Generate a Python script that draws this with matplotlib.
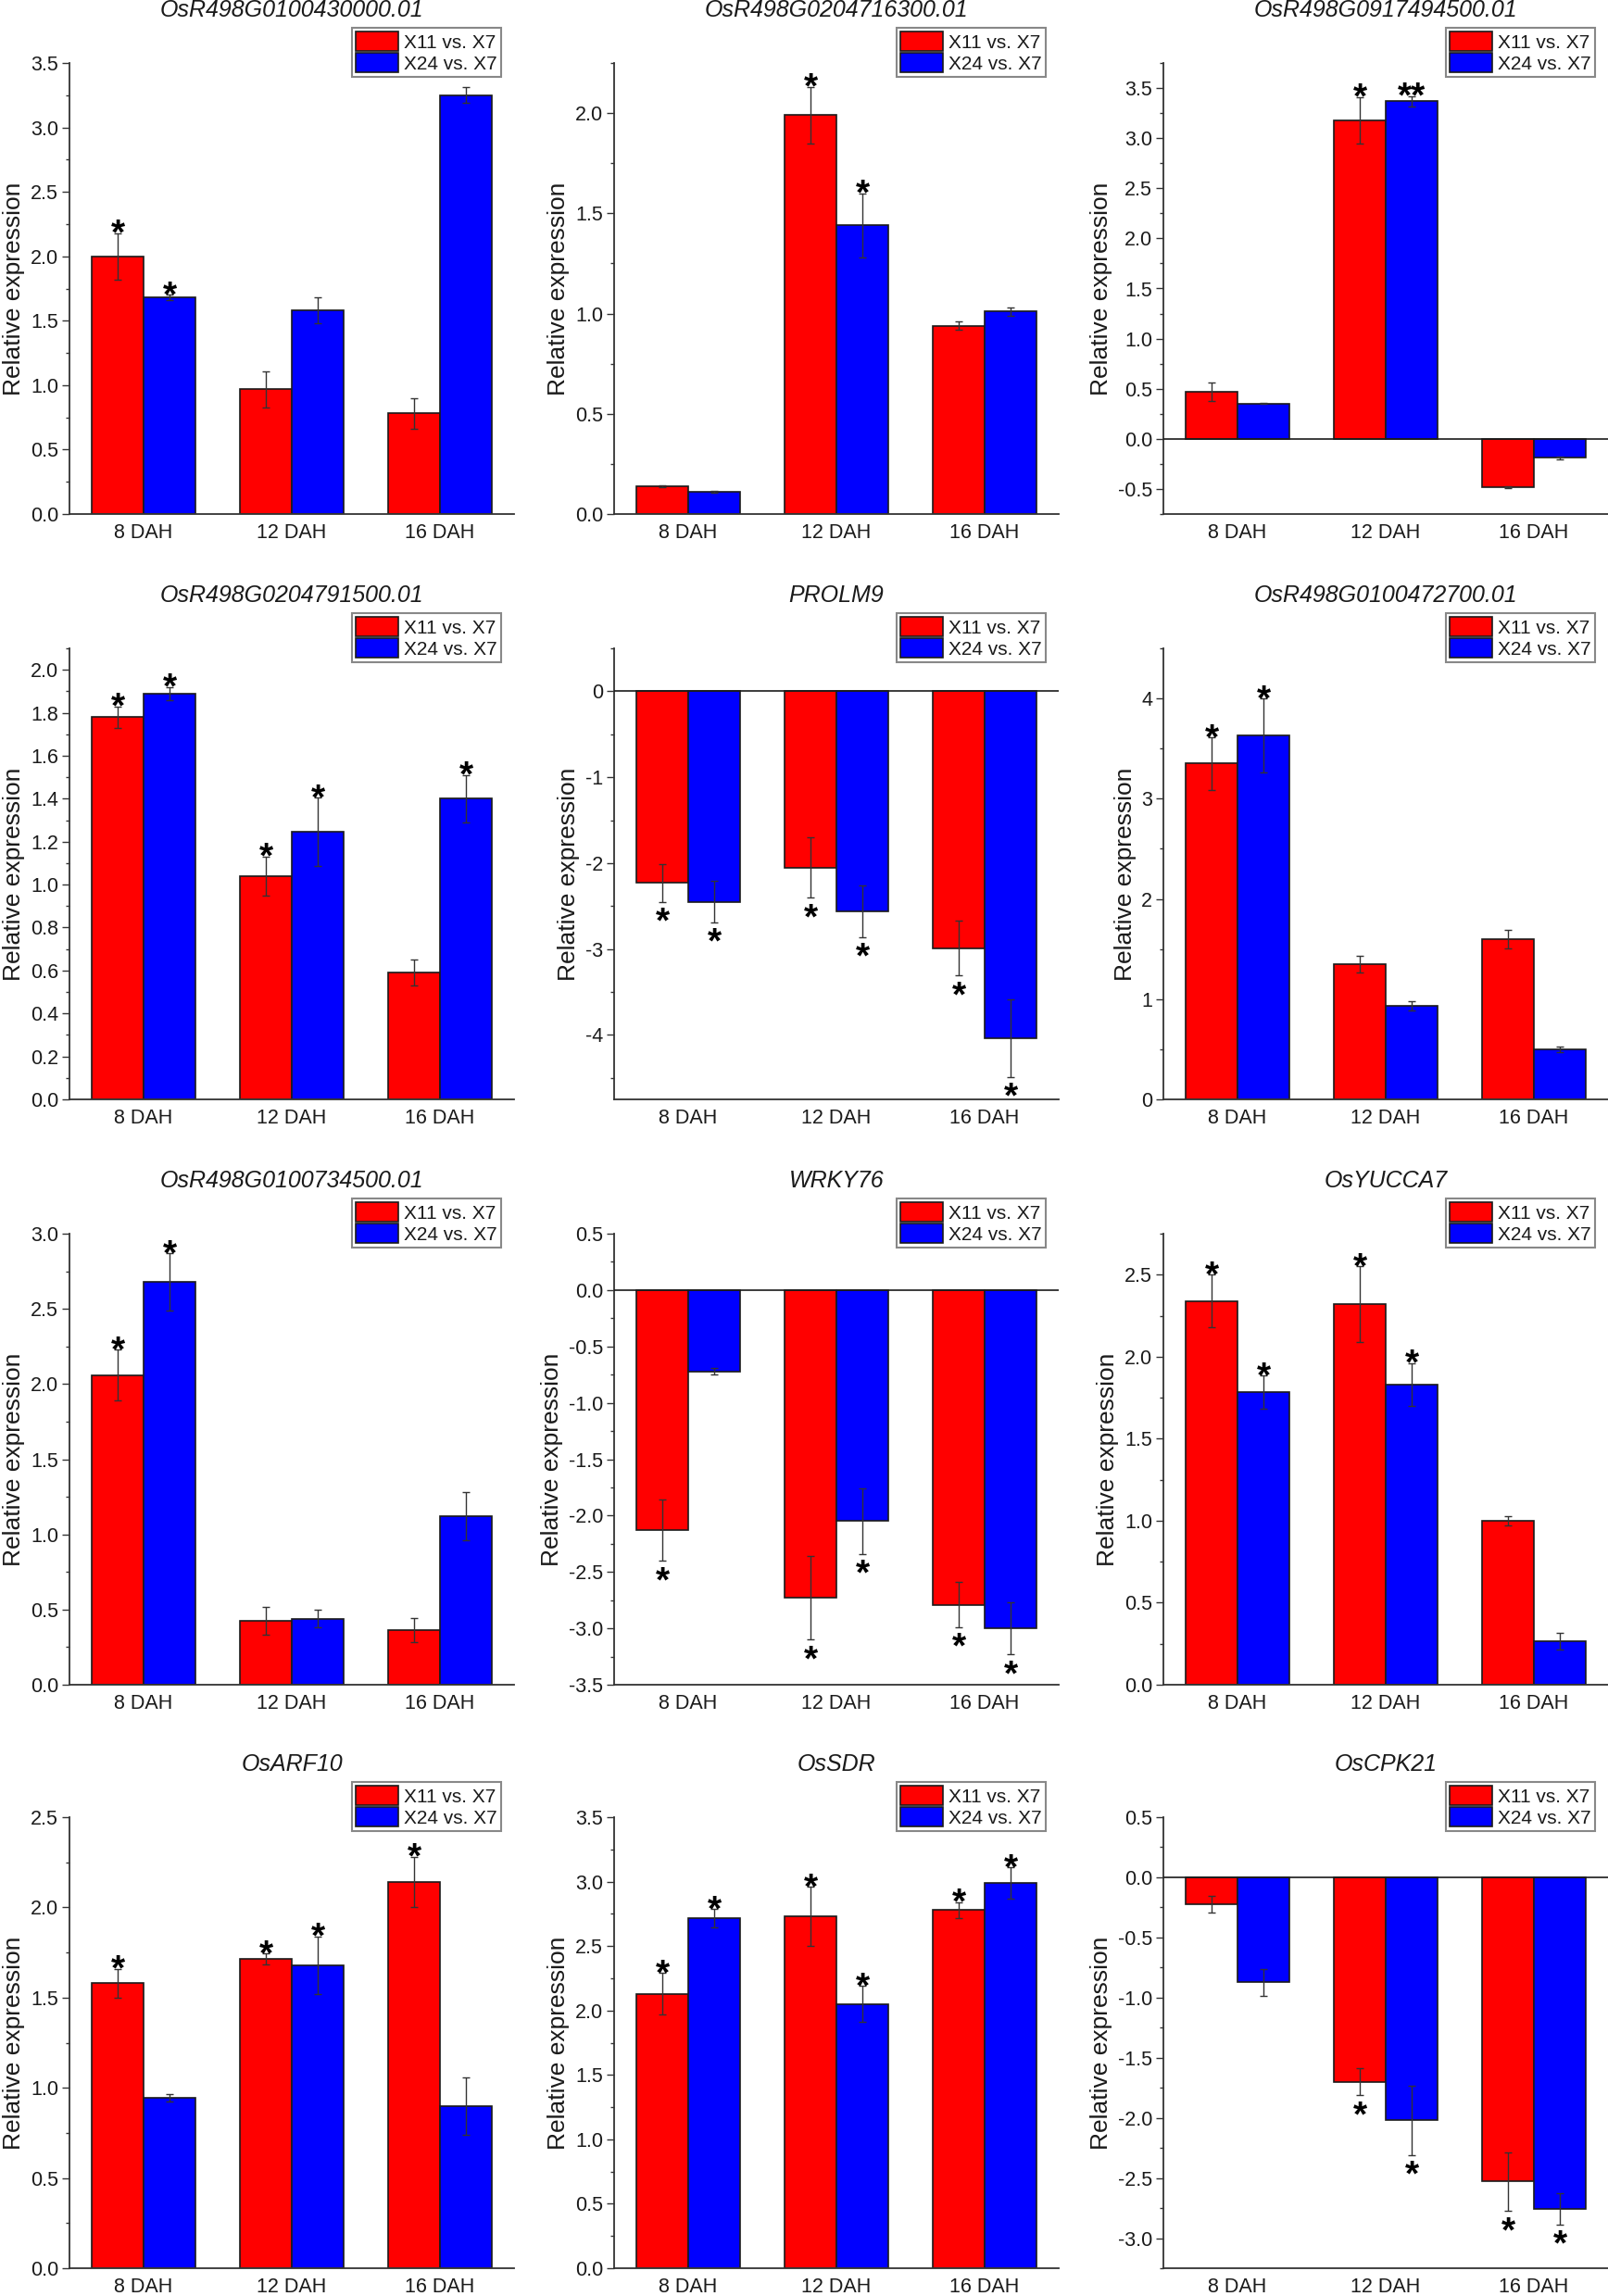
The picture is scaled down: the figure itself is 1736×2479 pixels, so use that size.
import matplotlib
matplotlib.use('Agg')
import matplotlib.pyplot as plt
import numpy as np
from matplotlib.ticker import MultipleLocator, FormatStrFormatter
from matplotlib.patches import Patch

plt.rcParams['font.family'] = ['Liberation Sans', 'DejaVu Sans']

categories = ['8 DAH', '12 DAH', '16 DAH']
series_labels = ['X11 vs. X7', 'X24 vs. X7']
genes = ['OsR498G0100430000.01', 'OsR498G0204716300.01', 'OsR498G0917494500.01',
         'OsR498G0204791500.01', 'PROLM9', 'OsR498G0100472700.01',
         'OsR498G0100734500.01', 'WRKY76', 'OsYUCCA7',
         'OsARF10', 'OsSDR', 'OsCPK21']

x11_mean = [
    [2.00, 0.97, 0.78],
    [0.138, 1.99, 0.94],
    [0.47, 3.18, -0.48],
    [1.78, 1.04, 0.59],
    [-2.23, -2.05, -2.99],
    [3.35, 1.35, 1.60],
    [2.06, 0.425, 0.366],
    [-2.13, -2.73, -2.79],
    [2.34, 2.32, 1.00],
    [1.58, 1.715, 2.14],
    [2.13, 2.73, 2.78],
    [-0.224, -1.70, -2.53],
]
x11_err = [
    [0.18, 0.14, 0.12],
    [0.004, 0.14, 0.02],
    [0.09, 0.23, 0.01],
    [0.05, 0.09, 0.06],
    [0.22, 0.35, 0.32],
    [0.26, 0.08, 0.09],
    [0.17, 0.09, 0.08],
    [0.27, 0.37, 0.20],
    [0.16, 0.23, 0.03],
    [0.08, 0.03, 0.14],
    [0.16, 0.23, 0.06],
    [0.07, 0.11, 0.245],
]
x24_mean = [
    [1.68, 1.58, 3.25],
    [0.11, 1.44, 1.01],
    [0.35, 3.37, -0.19],
    [1.89, 1.245, 1.40],
    [-2.45, -2.56, -4.04],
    [3.63, 0.935, 0.50],
    [2.68, 0.44, 1.12],
    [-0.72, -2.05, -3.00],
    [1.785, 1.83, 0.265],
    [0.945, 1.68, 0.90],
    [2.715, 2.05, 2.99],
    [-0.874, -2.02, -2.755],
]
x24_err = [
    [0.02, 0.10, 0.06],
    [0.004, 0.16, 0.02],
    [0.005, 0.05, 0.015],
    [0.03, 0.16, 0.11],
    [0.24, 0.30, 0.45],
    [0.37, 0.045, 0.025],
    [0.19, 0.06, 0.16],
    [0.03, 0.29, 0.23],
    [0.10, 0.13, 0.05],
    [0.02, 0.16, 0.16],
    [0.07, 0.14, 0.12],
    [0.11, 0.29, 0.13],
]
x11_sig = [
    ['*', '', ''], ['', '*', ''], ['', '*', ''],
    ['*', '*', ''], ['*', '*', '*'], ['*', '', ''],
    ['*', '', ''], ['*', '*', '*'], ['*', '*', ''],
    ['*', '*', '*'], ['*', '*', '*'], ['', '*', '*'],
]
x24_sig = [
    ['*', '', ''], ['', '*', ''], ['', '**', ''],
    ['*', '*', '*'], ['*', '*', '*'], ['*', '', ''],
    ['*', '', ''], ['', '*', '*'], ['*', '*', ''],
    ['', '*', ''], ['*', '*', '*'], ['', '*', '*'],
]
y_limits = [(0, 3.5), (0, 2.25), (-0.75, 3.75), (0, 2.1), (-4.75, 0.5), (0, 4.5),
            (0, 3.0), (-3.5, 0.5), (0, 2.75), (0, 2.5), (0, 3.5), (-3.25, 0.5)]
y_major = [0.5, 0.5, 0.5, 0.2, 1, 1, 0.5, 0.5, 0.5, 0.5, 0.5, 0.5]
y_fmt = ['%.1f', '%.1f', '%.1f', '%.1f', '%d', '%d',
         '%.1f', '%.1f', '%.1f', '%.1f', '%.1f', '%.1f']

W, H, DPI = 1736, 2479, 100
fig = plt.figure(figsize=(W / DPI, H / DPI), dpi=DPI)
fig.patch.set_facecolor('white')

col_left = [75, 663, 1256]
row_top = [68, 700, 1332, 1962]
ax_w, ax_h = 480, 487
bw = 0.35
red, blue = '#ff0000', '#0000ff'
edge = '#1a1a1a'
txt = '#1a1a1a'
star_h_px = 14

def px2pt(p):
    return p * 72.0 / DPI

for i, gene in enumerate(genes):
    r, c = divmod(i, 3)
    left = col_left[c] / W
    bottom = 1 - (row_top[r] + ax_h) / H
    ax = fig.add_axes([left, bottom, ax_w / W, ax_h / H])
    x = np.arange(len(categories))
    ek = dict(ecolor='#333333', elinewidth=1.0, capsize=3, capthick=1.0)
    ax.bar(x - bw / 2, x11_mean[i], bw, color=red, edgecolor=edge, linewidth=1.2,
           yerr=x11_err[i], error_kw=ek, label=series_labels[0], zorder=2)
    ax.bar(x + bw / 2, x24_mean[i], bw, color=blue, edgecolor=edge, linewidth=1.2,
           yerr=x24_err[i], error_kw=ek, label=series_labels[1], zorder=2)
    lo, hi = y_limits[i]
    ax.set_ylim(lo, hi)
    ax.set_xlim(-0.5, 2.5)
    if lo < 0:
        ax.axhline(0, color=edge, lw=1.2, zorder=3)
    # stars
    for means, errs, sigs, off in ((x11_mean[i], x11_err[i], x11_sig[i], -bw / 2),
                                   (x24_mean[i], x24_err[i], x24_sig[i], bw / 2)):
        for j in range(3):
            s = sigs[j]
            if not s:
                continue
            m, e = means[j], errs[j]
            if m >= 0:
                ax.annotate(s, xy=(x[j] + off, m + e), xytext=(0, px2pt(2 + star_h_px)),
                            textcoords='offset points', ha='center', va='top',
                            fontsize=28, fontweight='bold', color='black')
            else:
                ax.annotate(s, xy=(x[j] + off, m - e), xytext=(0, -px2pt(5)),
                            textcoords='offset points', ha='center', va='top',
                            fontsize=28, fontweight='bold', color='black')
    ax.set_xticks(x)
    ax.set_xticklabels(categories)
    ax.yaxis.set_major_locator(MultipleLocator(y_major[i]))
    ax.yaxis.set_minor_locator(MultipleLocator(y_major[i] / 2))
    ax.yaxis.set_major_formatter(FormatStrFormatter(y_fmt[i]))
    for sp in ('top', 'right'):
        ax.spines[sp].set_visible(False)
    for sp in ('left', 'bottom'):
        ax.spines[sp].set_linewidth(1.3)
        ax.spines[sp].set_color('#333333')
    ax.tick_params(axis='x', length=0, pad=7, labelsize=15.5, labelcolor=txt)
    ax.tick_params(axis='y', which='major', direction='out', length=5.5, width=1.0,
                   pad=3, labelsize=15.5, labelcolor=txt, color='#333333')
    ax.tick_params(axis='y', which='minor', direction='out', length=3, width=1.0,
                   color='#333333')
    ax.set_ylabel('Relative expression', fontsize=19, color=txt, labelpad=4)
    ax.text(0.5, 1 + 57 / ax_h, gene, transform=ax.transAxes, ha='center', va='center',
            fontsize=18, style='italic', color=txt)
    handles = [Patch(facecolor=red, edgecolor=edge, linewidth=1.2),
               Patch(facecolor=blue, edgecolor=edge, linewidth=1.2)]
    leg = ax.legend(handles, series_labels, loc='upper right',
                    bbox_to_anchor=(1 - 14 / ax_w, 1 + 38 / ax_h),
                    bbox_transform=ax.transAxes, borderaxespad=0, frameon=True,
                    fancybox=False, edgecolor='#888888', framealpha=1, fontsize=15,
                    handlelength=2.2, handleheight=1.15, labelspacing=0.08,
                    handletextpad=0.3, borderpad=0.2)
    leg.get_frame().set_linewidth(1.5)
    for t in leg.get_texts():
        t.set_color(txt)

fig.savefig('out.png', dpi=DPI, facecolor='white')
